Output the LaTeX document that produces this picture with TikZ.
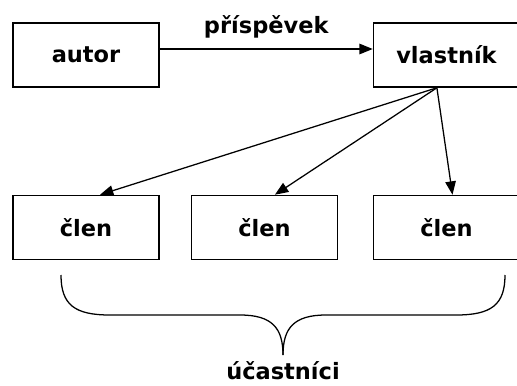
\documentclass[tikz,border=0pt]{standalone}
\usepackage{fontspec}
\setmainfont{DejaVu Sans}
\usetikzlibrary{arrows.meta}

\begin{document}
\begin{tikzpicture}[x=0.25mm,y=-0.25mm,
  role/.style={draw,line width=1.1pt,minimum width=36.5mm,minimum height=16mm,inner sep=0pt},
  txt/.style={font=\fontsize{16pt}{19pt}\selectfont\bfseries},
  arr/.style={line width=0.9pt,-{Triangle[length=9.5pt,width=7.5pt]}}]
\useasboundingbox (0,0) rectangle (517,385);
\node[role,txt] (autor) at (86,55) {autor};
\node[role,txt] (vlastnik) at (446.5,55) {vlastník};
\node[role,txt] (clen1) at (86,227.5) {člen};
\node[role,txt] (clen2) at (264.5,227.5) {člen};
\node[role,txt] (clen3) at (446.5,227.5) {člen};
\coordinate (hub) at ([xshift=-2.4mm]vlastnik.south);
\draw[arr] ([yshift=1.5mm]autor.east) -- ([yshift=1.5mm]vlastnik.west)
  node[txt,midway,above=4pt] (prispevek) {příspěvek};
\draw[arr] (hub) -- ([xshift=3.5mm]clen1.north);
\draw[arr] (hub) -- ([xshift=2.6mm]clen2.north);
\draw[arr] (hub) -- ([xshift=1.5mm]clen3.north);
% brace under the members
\draw[line width=0.9pt] (61,275) .. controls (61,305) and (75,315) .. (110,315) -- (240,315)
  .. controls (272,315) and (283,328) .. (283,355);
\draw[line width=0.9pt] (505,275) .. controls (505,305) and (491,315) .. (456,315) -- (326,315)
  .. controls (294,315) and (283,328) .. (283,355);
\node[txt] (ucastnici) at (283,371) {účastníci};
\end{tikzpicture}
\end{document}
